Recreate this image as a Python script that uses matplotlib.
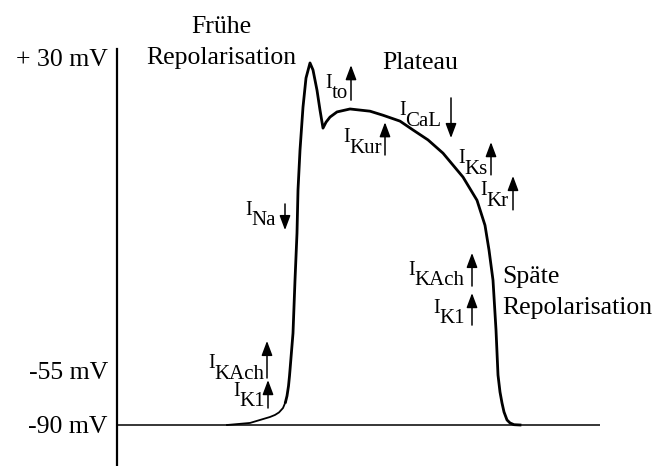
import numpy as np
import matplotlib
matplotlib.use("Agg")
import matplotlib.pyplot as plt

plt.rcParams['font.family'] = ['Liberation Serif', 'DejaVu Serif']

# Schematic atrial action potential (time in ms, membrane voltage in mV)
time_ms = [110, 133, 153, 158, 162, 166, 168.5, 170, 171.5, 172.5, 173, 176, 178,
           180, 181, 183, 186, 189, 193, 196, 200, 203, 206, 209, 213, 220, 233,
           253, 266, 283, 296, 311, 326, 346, 360, 368, 372, 376, 379, 381, 383,
           385, 387, 390, 393, 397, 403]
voltage_mv = [-90.0, -88.7, -84.9, -83.6, -82.0, -79.2, -75.4, -71.5, -65.2, -58.8,
              -55.0, -45.0, -30.6, -17.8, -6.1, 4.7, 16.4, 24.3, 28.4, 26.5, 21.0,
              15.6, 10.7, 12.3, 13.7, 15.1, 15.9, 15.3, 14.2, 12.6, 10.2, 7.5, 3.9,
              -2.6, -8.9, -15.7, -22.4, -30.6, -44.1, -58.2, -69.0, -76.0, -81.7,
              -86.8, -88.7, -89.8, -90.0]
foot_end = 6  # thin foot of the upstroke

# resting baseline
baseline_t = [0, 483]
baseline_v = [-90, -90]

ytick_values = [30, -55, -90]
ytick_labels = ['+ 30 mV', '-55 mV', '-90 mV']

# ion currents: name, label anchor (t, v), arrow tail (t, v), arrow head (t, v)
currents = [
    ('Na',   (128, -12.9), (168, -9.9),  (168, -17.0)),
    ('to',   (208, 21.6),  (234, 18.3),  (234, 27.8)),
    ('Kur',  (226, 6.9),   (268, 3.4),   (268, 12.3)),
    ('CaL',  (282, 14.2),  (334, 18.9),  (334, 8.0)),
    ('Ks',   (341, 1.2),   (374, -2.0),  (374, 6.9)),
    ('Kr',   (363, -7.5),  (396, -11.5), (396, -2.3)),
    ('KAch', (291, -29.2), (355, -32.2), (355, -23.2)),
    ('K1',   (316, -39.5), (355, -42.8), (355, -34.1)),
    ('KAch', (91, -54.5),  (150, -60.1), (150, -47.1)),
    ('K1',   (116, -71.5), (151, -79.2), (151, -61.4)),
]


def forward(v):
    v = np.asarray(v, dtype=float)
    return np.where(v < -55, (v + 90) * 55 / 35, 55 + (v + 55) * 313 / 85)


def inverse(h):
    h = np.asarray(h, dtype=float)
    return np.where(h < 55, h * 35 / 55 - 90, (h - 55) * 85 / 313 - 55)


fig = plt.figure(figsize=(6.59, 4.66), dpi=100)
ax = fig.add_axes([0, 0, 1, 1])
ax.set_yscale('function', functions=(forward, inverse))
ax.set_xlim(-117, 542)
ax.set_ylim(-116.1, 45.5)

ax.plot(baseline_t, baseline_v, color='black', lw=1.1, solid_capstyle='butt')
ax.plot(time_ms[:foot_end + 1], voltage_mv[:foot_end + 1], color='black', lw=1.3,
        solid_joinstyle='round')
ax.plot(time_ms[foot_end:], voltage_mv[foot_end:], color='black', lw=2.0,
        solid_joinstyle='round')

for side in ['top', 'right', 'bottom']:
    ax.spines[side].set_visible(False)
ax.spines['left'].set_position(('data', 0))
ax.spines['left'].set_bounds(-116.1, 32.2)
ax.spines['left'].set_linewidth(1.6)
ax.set_xticks([])
ax.set_yticks(ytick_values)
ax.set_yticklabels(ytick_labels, fontsize=18.5)
ax.tick_params(axis='y', length=0, pad=6.5)
ax.yaxis.set_minor_locator(matplotlib.ticker.NullLocator())

for name, (tx, ty), tail, head in currents:
    ax.text(tx, ty, 'I', fontsize=14.5, ha='left', va='baseline')
    ax.annotate(name, xy=(tx, ty), xytext=(4.5, -7.5), textcoords='offset points',
                fontsize=15, ha='left', va='baseline')
    ax.annotate('', xy=head, xytext=tail,
                arrowprops=dict(arrowstyle='-|>,head_length=0.8,head_width=0.3',
                                color='black', lw=1.1, mutation_scale=11,
                                shrinkA=0, shrinkB=0))

# phase labels
ax.text(104, 36.5, 'Frühe', fontsize=18.5, ha='center', va='baseline')
ax.text(104, 28.1, 'Repolarisation', fontsize=18.5, ha='center', va='baseline')
ax.text(303, 26.7, 'Plateau', fontsize=18.5, ha='center', va='baseline')
ax.text(385, -31.4, 'Späte', fontsize=18.5, ha='left', va='baseline')
ax.text(385, -39.8, 'Repolarisation', fontsize=18.5, ha='left', va='baseline')

fig.savefig('out.png', dpi=100)
